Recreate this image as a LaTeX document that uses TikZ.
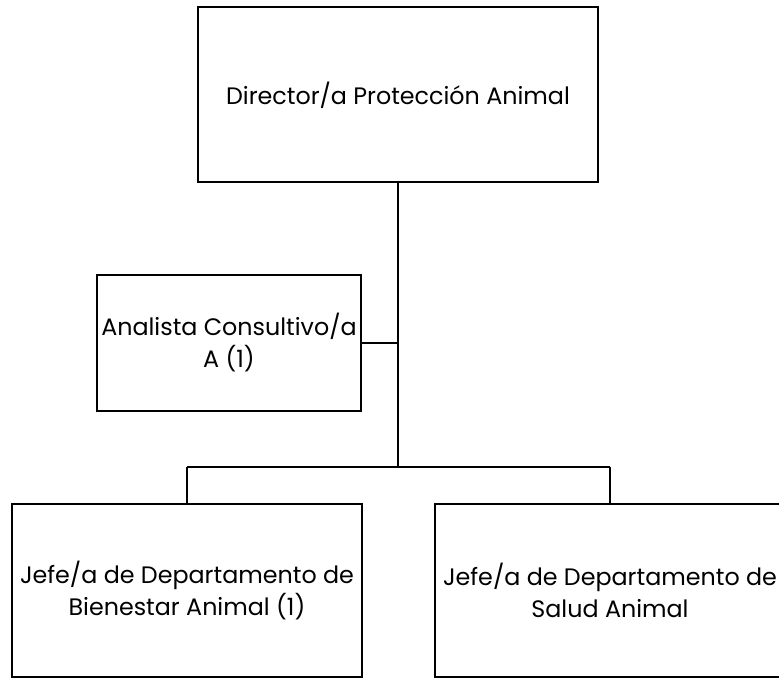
\documentclass[tikz,border=0pt]{standalone}
\usepackage{fontspec}
\setmainfont{Poppins}
\begin{document}
\begin{tikzpicture}[x=1pt,y=-1pt,
  box/.style={draw=black,line width=2pt,rectangle,inner sep=0pt,align=center,
    font=\fontsize{23.8}{32}\selectfont},
  link/.style={draw=black,line width=2pt}]
\useasboundingbox (0,0) rectangle (779,679);
\node[box,minimum width=400pt,minimum height=175pt] (dir) at (398,95) {Director/a Protección Animal};
\node[box,minimum width=264pt,minimum height=136pt] (ana) at (229,343) {Analista Consultivo/a\\A (1)};
\node[box,minimum width=350pt,minimum height=173pt] (bien) at (187,590.5) {Jefe/a de Departamento de\\Bienestar Animal (1)};
\node[box,minimum width=350pt,minimum height=173pt] (sal) at (610,590.5) {Jefe/a de Departamento de\\Salud Animal};
\coordinate (j1) at (398,343);
\coordinate (j2) at (398,467);
\coordinate (jl) at (187,467);
\coordinate (jr) at (610,467);
\draw[link] (dir.south) -- (j2);
\draw[link] (ana.east) -- (j1);
\draw[link] (jl) -- (jr);
\draw[link] (jl) -- (bien.north);
\draw[link] (jr) -- (sal.north);
\end{tikzpicture}
\end{document}
